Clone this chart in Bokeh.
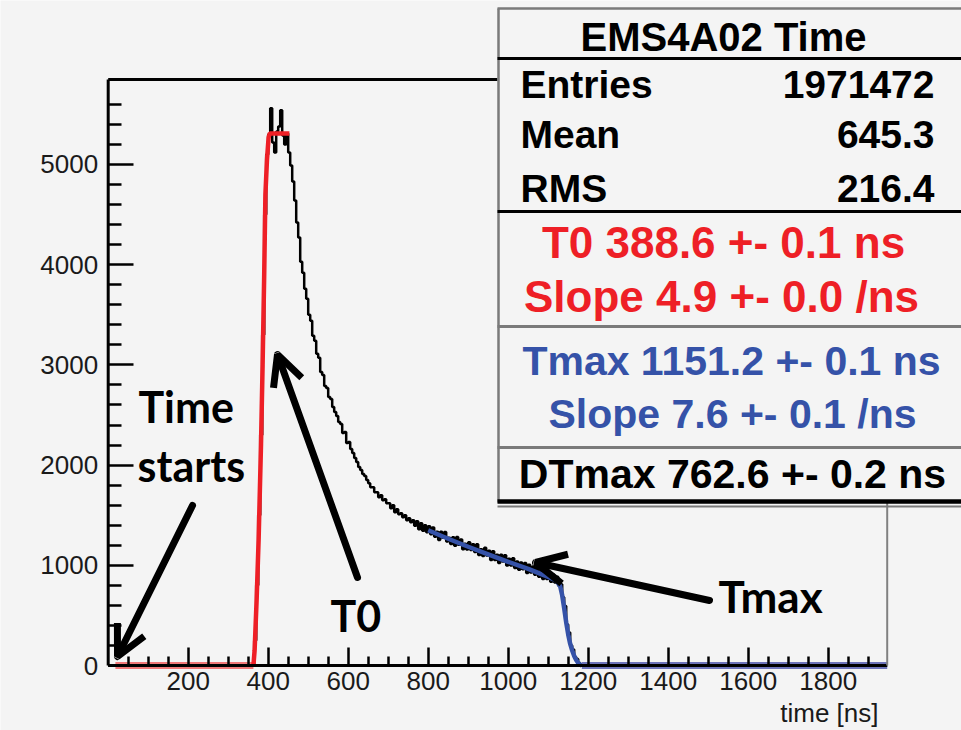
from bokeh.plotting import figure
from bokeh.models import Range1d, FixedTicker, Label, Arrow, OpenHead
from bokeh.embed import file_html
from bokeh.resources import INLINE

# ---------------- data ----------------
x_lo, x_hi = 0, 1947.5          # time axis range [ns]
y_lo, y_hi = 0, 5848            # counts axis range

# histogram "EMS4A02 Time": 5 ns bins from 360 ns, empty elsewhere
bin_starts = list(range(360, 1200, 5))
counts = [
    0, 250, 800, 1500, 2300, 3300, 4500, 5100, 5300, 5560,
    5220, 5120, 5330, 5380, 5540, 5290, 5200, 5310, 5120, 4990,
    4830, 4640, 4420, 4270, 4030, 3920, 3760, 3660, 3500, 3440,
    3290, 3240, 3110, 3070, 2930, 2900, 2790, 2770, 2680, 2660,
    2580, 2530, 2490, 2430, 2410, 2320, 2330, 2220, 2230, 2160,
    2120, 2070, 2030, 1980, 1950, 1910, 1890, 1850, 1820, 1780,
    1780, 1730, 1730, 1680, 1700, 1650, 1660, 1620, 1620, 1570,
    1600, 1530, 1560, 1510, 1520, 1480, 1500, 1450, 1470, 1430,
    1450, 1395, 1440, 1360, 1420, 1345, 1400, 1330, 1390, 1310,
    1378, 1284, 1336, 1252, 1334, 1275, 1332, 1238, 1275, 1212,
    1279, 1196, 1283, 1205, 1257, 1159, 1216, 1158, 1230, 1153,
    1210, 1133, 1210, 1103, 1160, 1093, 1175, 1098, 1145, 1053,
    1140, 1053, 1105, 1023, 1105, 1038, 1100, 998, 1065, 998,
    1071, 974, 1037, 955, 1028, 961, 1024, 922, 1005, 927,
    989, 906, 983, 885, 942, 864, 946, 863, 920, 836,
    908, 829, 885, 795, 810, 680, 595, 410, 330, 200,
    160, 85, 65, 25, 10, 3, 0, 0,
]
hist_t = [x_lo] + bin_starts + [x_hi]
hist_c = [0] + counts + [0]

# leading-edge fit (red): flat part then rise
red_t = [18, 363, 366, 371, 376, 382, 386, 390, 393, 397, 401, 404, 453]
red_c = [0, 0, 150, 650, 1250, 2200, 3000, 3900, 4700, 5050, 5270, 5310, 5310]

# trailing-edge fit (blue): decay, fall, then flat part
blue_t = [800, 850, 900, 950, 1000, 1050, 1100, 1120, 1130, 1135, 1140, 1145,
          1150, 1155, 1160, 1165, 1170, 1175, 1180, 1184, 1947.5]
blue_c = [1350, 1265, 1185, 1110, 1035, 965, 885, 850, 790, 700, 570, 430,
          310, 215, 150, 95, 55, 25, 8, 0, 0]

x_ticks = [200, 400, 600, 800, 1000, 1200, 1400, 1600, 1800]
x_minor = [t for t in range(50, 1950, 50) if t % 200]
y_ticks = [0, 1000, 2000, 3000, 4000, 5000]
y_minor = [v for v in range(200, 5800, 200) if v % 1000]

stats_title = "EMS4A02 Time"
stats_rows = [("Entries", "1971472"), ("Mean", "645.3"), ("RMS", "216.4")]
fit_red = ["T0 388.6 +- 0.1 ns", "Slope 4.9 +- 0.0 /ns"]
fit_blue = ["Tmax 1151.2 +- 0.1 ns", "Slope 7.6 +- 0.1 /ns"]
fit_dt = "DTmax 762.6 +- 0.2 ns"
x_title = "time [ns]"

# ---------------- styling ----------------
BG = "#f4f4f4"
RED = "#ee1f26"
BLUE = "#3552a8"
TICKFONT = "Liberation Sans, Arial, sans-serif"
SANS = "Liberation Sans, Arial, sans-serif"
HAND = "Lato, Open Sans, sans-serif"
W, H = 961, 730

# where the histogram frame sits in the picture (pixels)
FX0, FX1, FY0, FY1 = 107.7, 886.7, 665.0, 79.0


def dx(px):
    return x_lo + (px - FX0) / (FX1 - FX0) * (x_hi - x_lo)


def dy(py):
    return y_lo + (FY0 - py) / (FY0 - FY1) * (y_hi - y_lo)


# the drawing area covers the whole canvas; axes are pinned at x=0 / y=0
p = figure(width=W, height=H, output_backend="svg", toolbar_location=None,
           x_range=Range1d(dx(0), dx(W)), y_range=Range1d(dy(H), dy(0)),
           min_border_left=0, min_border_right=0,
           min_border_top=0, min_border_bottom=0,
           background_fill_color=BG, border_fill_color=BG,
           outline_line_color=None)
p.grid.visible = False

xa = p.xaxis[0]
xa.ticker = FixedTicker(ticks=x_ticks, minor_ticks=x_minor)
xa.fixed_location = y_lo
ya = p.yaxis[0]
ya.ticker = FixedTicker(ticks=y_ticks, minor_ticks=y_minor)
ya.fixed_location = x_lo
for ax in (xa, ya):
    ax.axis_line_color = None
    ax.major_tick_line_color = "black"
    ax.minor_tick_line_color = "black"
    ax.major_tick_line_width = 2.5
    ax.minor_tick_line_width = 2.5
    ax.major_tick_out = 0
    ax.minor_tick_out = 0
    ax.major_label_text_font = TICKFONT
    ax.major_label_text_font_size = "26px"
    ax.major_label_text_color = "#1a1a1a"
xa.major_tick_in = 18
xa.minor_tick_in = 9
xa.major_label_standoff = 6
ya.major_tick_in = 25
ya.minor_tick_in = 13
ya.major_label_standoff = 10

# histogram
p.step(hist_t, hist_c, mode="after", line_color="black", line_width=2.5)
# fits
p.line(red_t[:2], red_c[:2], line_color="#f07878", line_width=7)
p.line(red_t[1:], red_c[1:], line_color=RED, line_width=4.5)
p.line(blue_t[:-1], blue_c[:-1], line_color=BLUE, line_width=4.5)
p.line(blue_t[-2:], blue_c[-2:], line_color="#6e74ba", line_width=7)

# axis lines
p.segment(x0=[x_lo, x_lo], y0=[y_lo, y_lo], x1=[x_hi, x_lo], y1=[y_lo, y_hi],
          line_color="black", line_width=3)


def seg(x0, y0, x1, y1, color="black", width=3):
    p.add_layout(Arrow(end=None, x_start=dx(x0), y_start=dy(y0),
                       x_end=dx(x1), y_end=dy(y1),
                       line_color=color, line_width=width))


# frame top / right edges
seg(FX0, FY1, 497, FY1, "black", 3)
seg(FX1, 502, FX1, FY0, "#808080", 2)

# stats box
GRAY = "#7a7a7a"
seg(497, 8, 975, 8, GRAY, 2.5)
seg(498, 8, 498, 502, GRAY, 2.5)
seg(497, 58, 975, 58, "black", 3)
seg(497, 211, 975, 211, "black", 3)
seg(497, 326, 975, 326, GRAY, 3)
seg(497, 447, 975, 447, GRAY, 3)
seg(497, 501, 975, 501, "black", 4.5)
seg(497, 506, 975, 506, GRAY, 2)


def lab(text, px, py, size, color="black", align="left", font=SANS,
        style="bold", lift=0.35):
    # py is the wanted baseline; labels are anchored at their vertical middle
    p.add_layout(Label(x=dx(px), y=dy(py - lift * size), text=text,
                       text_font=font, text_font_size=f"{size}px",
                       text_font_style=style, text_color=color,
                       text_align=align, text_baseline="alphabetic"))


lab(stats_title, 723, 50, 40, align="center")
for (name, val), base in zip(stats_rows, [98, 148, 202]):
    lab(name, 520, base, 39)
    lab(val, 934, base, 39, align="right")
lab(fit_red[0], 723, 257, 44, RED, "center")
lab(fit_red[1], 721, 311, 44, RED, "center")
lab(fit_blue[0], 731, 375, 41, BLUE, "center")
lab(fit_blue[1], 732, 428, 41, BLUE, "center")
lab(fit_dt, 732, 488, 41, "black", "center")

# axis title
lab(x_title, 878, 722, 26, "#1a1a1a", "right", TICKFONT, "normal")

# hand-drawn style annotations
lab("Time", 138, 423, 43, font=HAND, lift=0.39)
lab("starts", 137, 482, 43, font=HAND, lift=0.39)
lab("T0", 330, 632, 43, font=HAND, lift=0.39)
lab("Tmax", 718, 613, 44, font=HAND, lift=0.39)


def arrow(x0, y0, x1, y1):
    p.add_layout(Arrow(end=OpenHead(size=30, line_width=7, line_color="black"),
                       x_start=dx(x0), y_start=dy(y0), x_end=dx(x1), y_end=dy(y1),
                       line_color="black", line_width=7, line_cap="round"))


arrow(192, 505, 117, 656)
arrow(357, 577, 277, 354)
arrow(709, 600, 535, 562)

open("out.html", "w").write(file_html(p, INLINE))
